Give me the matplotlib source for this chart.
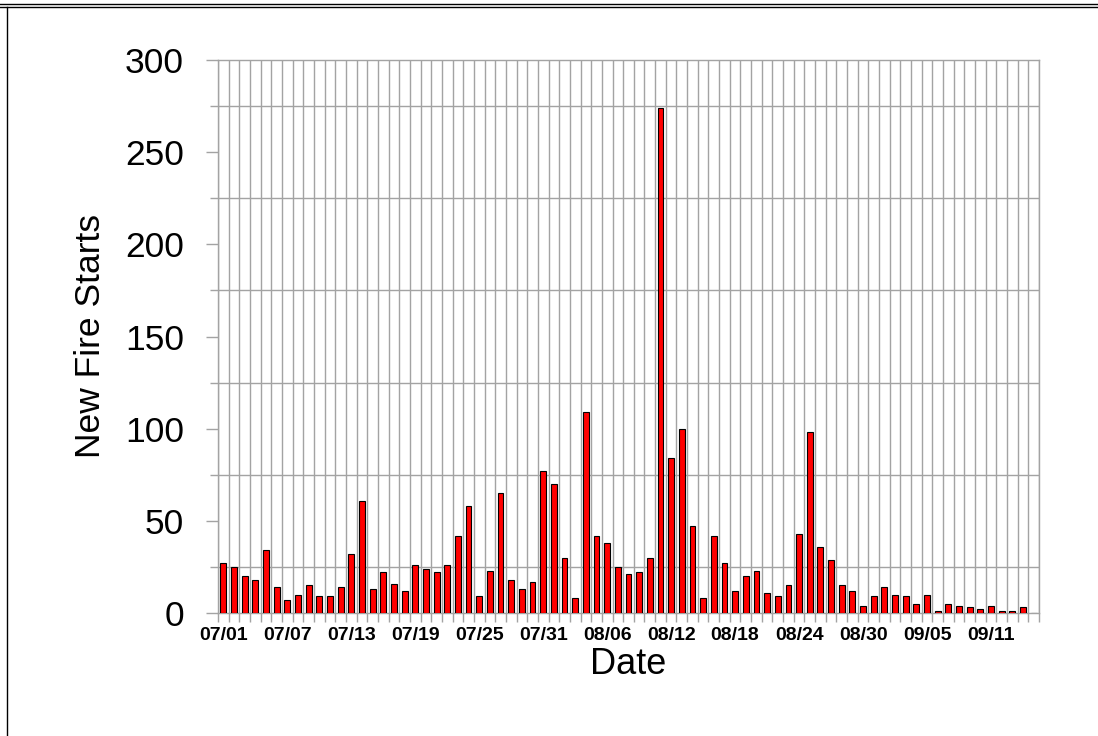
import matplotlib
matplotlib.use("Agg")

import numpy as np
import pandas as pd
import matplotlib.pyplot as plt
import matplotlib.lines as mlines

# ---- data ----
dates = pd.date_range("2000-07-01", "2000-09-15", freq="D")
day_labels = dates.strftime("%m/%d").tolist()

new_fire_starts = [
    27, 25, 20, 18, 34, 14, 7, 10, 15, 9, 9, 14, 32, 61, 13, 22, 16, 12, 26, 24, 22, 26, 42, 58, 9, 23,
    65, 18, 13, 17, 77, 70, 30, 8, 109, 42, 38, 25, 21, 22, 30, 274, 84, 100, 47, 8, 42, 27, 12, 20, 23, 11, 9,
    15, 43, 98, 36, 29, 15, 12, 4, 9, 14, 10, 9, 5, 10, 1, 5, 4, 3, 2, 4, 1, 1, 3, 0,
]
label_every = 6
y_major = [0, 50, 100, 150, 200, 250, 300]
y_minor_step = 25

GRID = "#a3a3a3"
W, H = 1098, 736

plt.rcParams["font.family"] = ["Liberation Sans", "DejaVu Sans"]

fig = plt.figure(figsize=(W / 100, H / 100), dpi=100)
ax = fig.add_axes([218 / W, 123 / H, 821 / W, 553 / H])

x = np.arange(len(new_fire_starts))
ax.bar(x, new_fire_starts, width=0.55, color="#ff0000", edgecolor="black", linewidth=0.8, zorder=3)

ax.set_xlim(-0.5, len(x) - 0.5)
ax.set_ylim(y_major[0], y_major[-1])

# x: labels every 6th day, grid at the day boundaries
ax.set_xticks(x[::label_every])
ax.set_xticklabels(day_labels[::label_every], fontsize=14, fontweight="bold")
ax.set_xticks(np.arange(-0.5, len(x)), minor=True)
ax.tick_params(axis="x", which="major", length=0, pad=10)
ax.tick_params(axis="x", which="minor", length=6.5, width=1.0, color=GRID, direction="out")

# y: labels every 50, grid every 25
ax.set_yticks(y_major)
ax.set_yticks(np.arange(y_major[0], y_major[-1] + 1, y_minor_step), minor=True)
ax.tick_params(axis="y", which="major", length=8.6, width=1.0, color=GRID, labelsize=25.5, pad=16)
ax.tick_params(axis="y", which="minor", length=5.8, width=1.0, color=GRID)

ax.grid(which="minor", color=GRID, linewidth=1.0, zorder=0)
ax.set_axisbelow(True)
for s in ax.spines.values():
    s.set_color(GRID)
    s.set_linewidth(1.0)

ax.set_ylabel("New Fire Starts", fontsize=25.5, labelpad=13)
ax.set_xlabel("Date", fontsize=26, labelpad=2)

# page frame: double rule on top, single rule on the left
for yy in (4.3, 6.5):
    fig.add_artist(mlines.Line2D([0, 1], [1 - yy / H] * 2, transform=fig.transFigure, color="black", lw=1.0))
fig.add_artist(mlines.Line2D([7.3 / W] * 2, [0, 1 - 6.5 / H], transform=fig.transFigure, color="black", lw=1.0))

fig.savefig("out.png", dpi=100)
plt.close(fig)
